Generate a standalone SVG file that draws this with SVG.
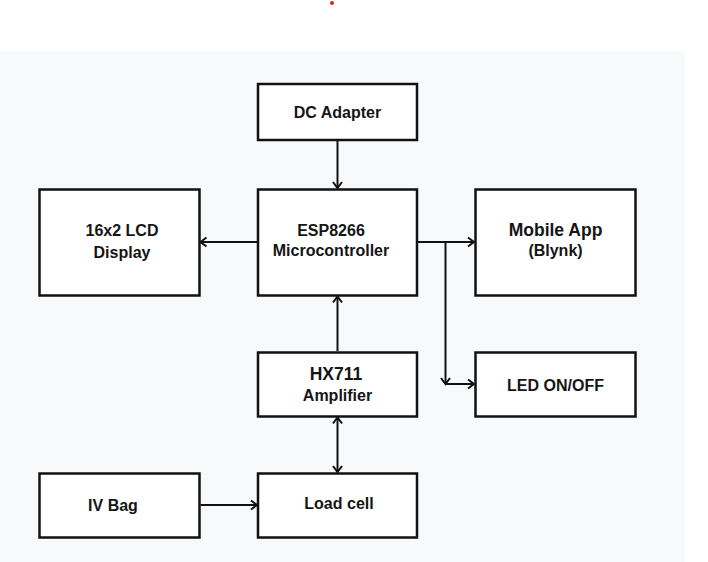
<svg xmlns="http://www.w3.org/2000/svg" width="708" height="562" viewBox="0 0 708 562">
<style>
.box{fill:#fff;stroke:#111;stroke-width:2.5}
.t{font-family:"Liberation Sans",Arial,sans-serif;font-weight:bold;font-size:16px;fill:#151515;text-anchor:middle}
.big{font-size:17.5px}
.con{stroke:#111;stroke-width:2;fill:none}
</style>
<defs>
<marker id="ah" markerUnits="userSpaceOnUse" markerWidth="12" markerHeight="12" viewBox="-10 -6 12 12" refX="0" refY="0" orient="auto-start-reverse">
<path d="M-6,-4.5 L0,0 L-6,4.5" fill="none" stroke="#111" stroke-width="2"/>
</marker>
</defs>
<rect x="0" y="0" width="708" height="562" fill="#fff"/>
<rect x="0" y="51.5" width="684.5" height="511" fill="#f8f9fa"/>
<circle cx="332" cy="3" r="2" fill="#e02020"/>
<g id="connectors">
<line class="con" x1="337.5" y1="141" x2="337.5" y2="188" marker-end="url(#ah)"/>
<line class="con" x1="257" y1="242" x2="200.5" y2="242" marker-end="url(#ah)"/>
<line class="con" x1="418" y1="242" x2="474" y2="242" marker-end="url(#ah)"/>
<polyline class="con" points="445.5,242 445.5,384" marker-end="url(#ah)"/>
<line class="con" x1="445.5" y1="384" x2="474" y2="384" marker-end="url(#ah)"/>
<line class="con" x1="337.5" y1="351" x2="337.5" y2="296.5" marker-end="url(#ah)"/>
<line class="con" x1="337.5" y1="417.5" x2="337.5" y2="472" marker-start="url(#ah)" marker-end="url(#ah)"/>
<line class="con" x1="200.5" y1="505" x2="257" y2="505" marker-end="url(#ah)"/>
</g>
<g id="dc-adapter"><rect class="box" x="258" y="84" width="159" height="56"/><text class="t" x="337.5" y="118">DC Adapter</text></g>
<g id="lcd"><rect class="box" x="39.5" y="189.5" width="160" height="106"/><text class="t" x="122" y="236">16x2 LCD</text><text class="t" x="122" y="257.5">Display</text></g>
<g id="esp8266"><rect class="box" x="258" y="189.5" width="159" height="106"/><text class="t" x="331" y="235.5">ESP8266</text><text class="t" x="331" y="255.5">Microcontroller</text></g>
<g id="mobile-app"><rect class="box" x="475.5" y="189.5" width="160" height="106"/><text class="t big" x="555.5" y="236">Mobile App</text><text class="t" x="555.5" y="256">(Blynk)</text></g>
<g id="hx711"><rect class="box" x="258" y="352.5" width="159" height="64"/><text class="t big" x="336" y="379.5">HX711</text><text class="t" x="337.5" y="401">Amplifier</text></g>
<g id="led"><rect class="box" x="475.5" y="352.5" width="160" height="64"/><text class="t" x="555.5" y="390.5">LED ON/OFF</text></g>
<g id="iv-bag"><rect class="box" x="39.5" y="473.5" width="160" height="64"/><text class="t" x="113" y="511">IV Bag</text></g>
<g id="load-cell"><rect class="box" x="258" y="473.5" width="159" height="64"/><text class="t" x="339" y="509">Load cell</text></g>
</svg>
